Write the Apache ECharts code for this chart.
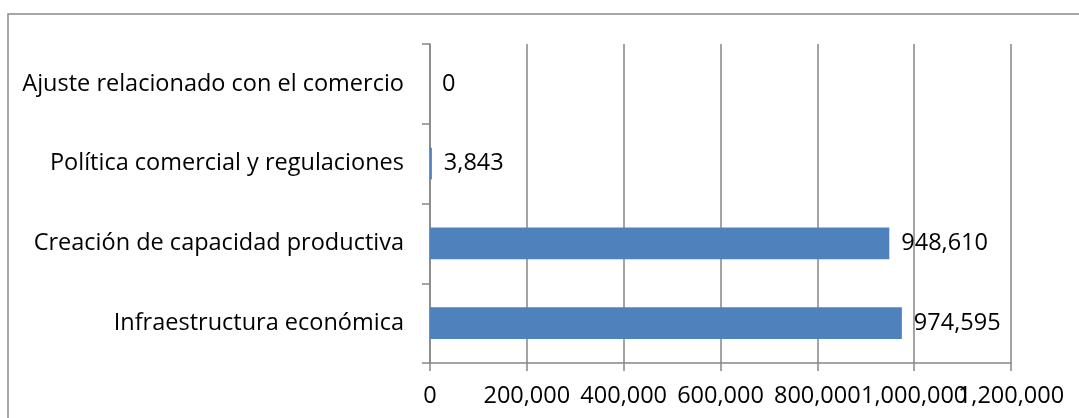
<!DOCTYPE html>
<html>
<head>
<meta charset="utf-8">
<script src="https://cdn.jsdelivr.net/npm/echarts@6/dist/echarts.min.js"></script>
<style>
html,body{margin:0;padding:0;background:#fff;}
#c{width:1079px;height:418px;}
</style>
</head>
<body>
<div id="c"></div>
<script>
const categories = [
  "Infraestructura económica",
  "Creación de capacidad productiva",
  "Política comercial y regulaciones",
  "Ajuste relacionado con el comercio"
];
const values = [974595, 948610, 3843, 0];
const xTicks = { min: 0, max: 1200000, interval: 200000 };

const fmt = v => String(v).replace(/\B(?=(\d{3})+(?!\d))/g, ",");
const FONT = "Open Sans";
const FS = 23.5;
const gray = "#868686";

const labelBase = {
  color: "#000", fontFamily: FONT, fontSize: FS, margin: 21,
  showMinLabel: true, showMaxLabel: true, hideOverlap: false
};
const axisBase = {
  type: "value",
  gridIndex: 0,
  position: "bottom",
  min: xTicks.min, max: xTicks.max, interval: xTicks.interval
};

const chart = echarts.init(document.getElementById("c"), null, { renderer: "canvas" });
chart.setOption({
  animation: false,
  backgroundColor: "#fff",
  graphic: [{
    type: "rect",
    shape: { x: 8, y: 14, width: 1200, height: 600 },
    style: { fill: "none", stroke: "#8a8a8a", lineWidth: 1.5 },
    silent: true
  }],
  grid: { left: 430, right: 68, top: 44, bottom: 55, containLabel: false },
  xAxis: [
    Object.assign({}, axisBase, {
      axisLine: { show: true, lineStyle: { color: gray, width: 1.5 } },
      axisTick: { show: true, length: 8, lineStyle: { color: gray, width: 1.5 } },
      splitLine: { show: true, lineStyle: { color: gray, width: 1.5 } },
      axisLabel: Object.assign({}, labelBase, {
        formatter: v => (v === xTicks.max ? "" : fmt(v))
      })
    }),
    Object.assign({}, axisBase, {
      axisLine: { show: false },
      axisTick: { show: false },
      splitLine: { show: false },
      axisLabel: Object.assign({}, labelBase, {
        formatter: v => (v === xTicks.max ? fmt(v) : "")
      })
    })
  ],
  yAxis: {
    type: "category",
    data: categories,
    axisLine: { show: true, lineStyle: { color: gray, width: 1.5 } },
    axisTick: { show: true, length: 8, lineStyle: { color: gray, width: 1.5 } },
    axisLabel: { color: "#000", fontFamily: FONT, fontSize: FS, margin: 26 }
  },
  series: [{
    type: "bar",
    xAxisIndex: 0,
    data: values,
    barWidth: "40%",
    itemStyle: { color: "#4F81BD" },
    label: {
      show: true, position: "right", distance: 12,
      formatter: p => fmt(p.value),
      color: "#000", fontFamily: FONT, fontSize: FS
    }
  }]
});
</script>
</body>
</html>
